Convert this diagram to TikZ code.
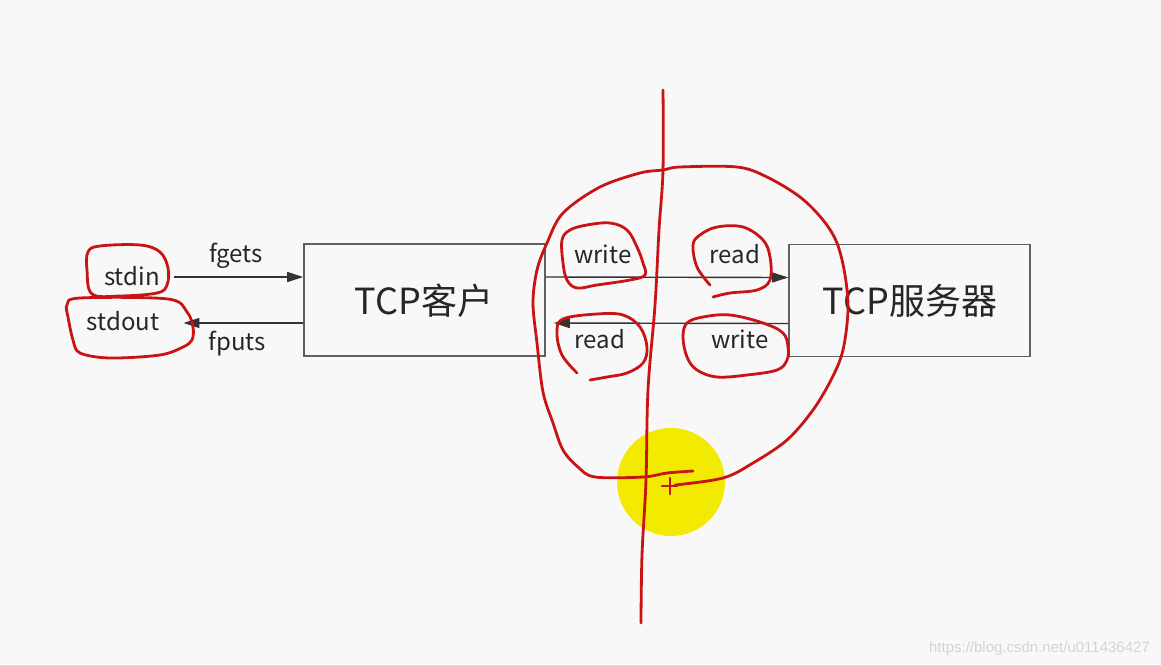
\documentclass[tikz,border=0pt]{standalone}
\usepackage{fontspec}
\setmainfont{Noto Sans CJK SC}
\newfontfamily\urlfont{Liberation Sans}
\usetikzlibrary{arrows.meta}
\definecolor{bgcol}{HTML}{F8F8F8}
\definecolor{pen}{HTML}{C81414}
\definecolor{boxline}{HTML}{606060}
\definecolor{hilite}{HTML}{F2EA00}
\tikzset{
  box/.style={draw=boxline,line width=1.6pt,minimum width=241pt,minimum height=112pt,inner sep=0pt},
  flow/.style={draw=black!80,line width=1.4pt,-{Triangle[length=16pt,width=10pt]}},
  lbl/.style={font=\fontsize{24}{26}\selectfont,text=black!85,inner sep=0pt,anchor=base},
  redpen/.style={draw=pen,line width=2.8pt,line cap=round,line join=round}
}
\begin{document}
\begin{tikzpicture}[x=1pt,y=-1pt]
	\useasboundingbox (0,0) rectangle (1161,664);
	\fill [bgcol](0,0) rectangle (1161,664);
	% boxes
	\node [box] (client) at (424.5,300) {};
	\node [box] (server) at (909.5,300.5) {};
	\node [lbl,font=\fontsize{36}{40}\selectfont] at (424,314) {TCP客户};
	\node [lbl,font=\fontsize{36}{40}\selectfont] at (910,314) {TCP服务器};
	% local side
	\node [lbl] (stdin) at (132,285) {stdin};
	\node [lbl] (stdout) at (123,330) {stdout};
	\node [lbl] (fgets) at (236,262) {fgets};
	\node [lbl] (fputs) at (237,350) {fputs};
	\coordinate (inA) at ([yshift=23pt]client.west);
	\coordinate (outA) at ([yshift=-23pt]client.west);
	\coordinate (sendA) at ([yshift=23pt]client.east);
	\coordinate (recvA) at ([yshift=-23pt]client.east);
	\coordinate (sendB) at ([yshift=23pt]server.west);
	\coordinate (recvB) at ([yshift=-23pt]server.west);
	\draw [flow] ([xshift=14pt]stdin.east |- inA) -- (inA);
	\draw [flow] (outA) -- ([xshift=24pt]stdout.east |- outA);
	% socket side
	\draw [flow] (sendA) -- (sendB);
	\draw [flow,shorten >=8pt] (recvB) -- (recvA);
	\node [lbl] (cw) at (603,263) {write};
	\node [lbl] (sr) at (735,263) {read};
	\node [lbl] (cr) at (600,348) {read};
	\node [lbl] (sw) at (740,348) {write};
	% marks by hand
	\fill [hilite] (671,482) circle (54);
	\draw [redpen] plot [smooth,tension=0.6] coordinates {(663,90) (663,170) (659,230) (655,305) (648,390) (646,480) (642,555) (641,623)};
	\draw [redpen] plot [smooth cycle,tension=0.6] coordinates {(92,294) (87,270) (88,252) (100,246) (140,245) (160,252) (168,268) (167,285) (157,293) (120,296)};
	\draw [redpen] plot [smooth cycle,tension=0.55] coordinates {(80,298) (168,299) (187,312) (193,327) (192,340) (183,347) (160,355) (110,358) (80,353) (73,340) (68,317) (67,305)};
	\draw [redpen] plot [smooth cycle,tension=0.6] coordinates {(562,240) (570,230) (587,225) (610,223) (627,230) (637,247) (643,263) (645,275) (630,280) (597,285) (577,288) (567,280) (563,263)};
	\draw [redpen] plot [smooth,tension=0.6] coordinates {(710,285) (697,267) (693,245) (700,235) (717,227) (743,227) (763,240) (770,257) (770,280) (757,290) (730,293) (713,297)};
	\draw [redpen] plot [smooth,tension=0.6] coordinates {(577,373) (562,355) (557,333) (563,319) (597,314) (623,315) (640,327) (647,347) (643,363) (627,373) (607,377) (590,380)};
	\draw [redpen] plot [smooth cycle,tension=0.6] coordinates {(687,323) (703,317) (730,315) (763,323) (783,333) (788,347) (787,360) (777,370) (747,375) (717,377) (697,370) (687,357) (683,337)};
	\draw [redpen] plot [smooth,tension=0.55] coordinates {(693,471) (667,473) (643,477) (595,477) (578,467) (563,450) (553,423) (543,392) (537,343) (533,303) (537,270) (547,243) (563,213) (600,187) (640,173) (663,170) (680,167) (737,167) (767,177) (800,197) (823,220) (837,243) (845,275) (848,310) (843,350) (832,378) (813,410) (787,440) (753,463) (723,478) (675,485)};
	\draw [redpen,line width=2.2pt] (662,486) -- (677,486) (670,478) -- (670,494);
	% watermark
	\node [anchor=base east,inner sep=0pt,text=black!17,font=\urlfont\fontsize{15}{17}\selectfont] (mark) at (1150,652) {https://blog.csdn.net/u011436427};
\end{tikzpicture}
\end{document}
